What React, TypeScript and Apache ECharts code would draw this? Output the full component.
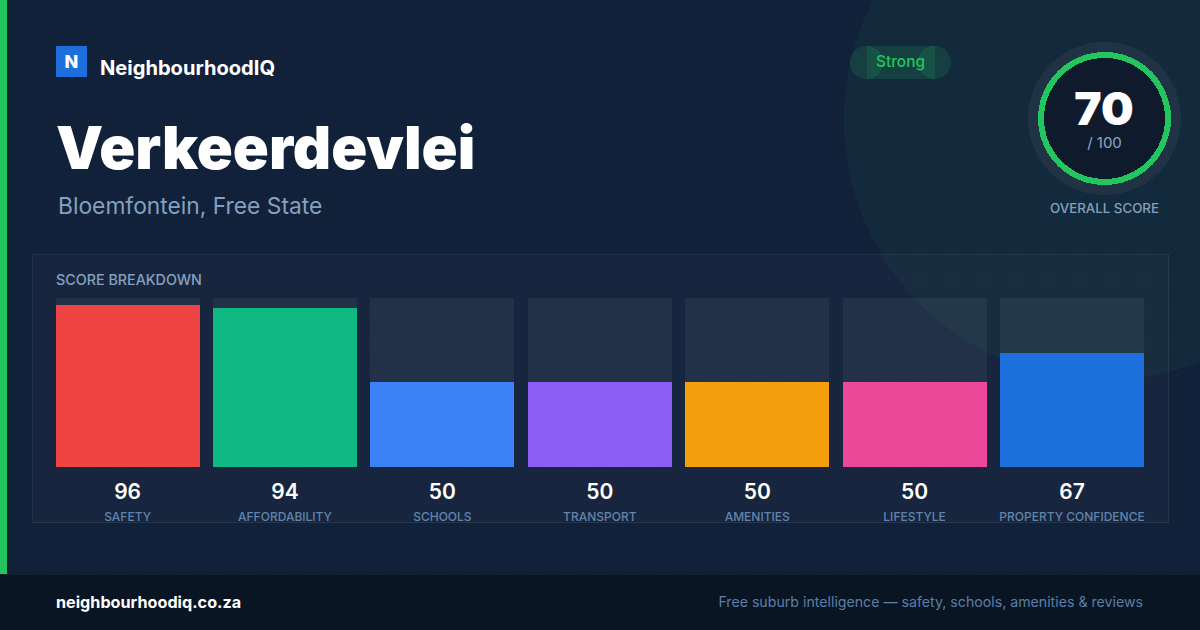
import { useEffect, useRef } from 'react';
import * as echarts from 'echarts';

const categories = ['SAFETY', 'AFFORDABILITY', 'SCHOOLS', 'TRANSPORT', 'AMENITIES', 'LIFESTYLE', 'PROPERTY CONFIDENCE'];
const scores = [96, 94, 50, 50, 50, 50, 67];
const barColors = ['#ef4444', '#10b981', '#3b82f6', '#8b5cf6', '#f59e0b', '#ec4899', '#1d6fdb'];

const FONT = 'Inter, sans-serif';
const GREEN = '#22c55e';

function label(text: string, x: number, y: number, fontSize: number, fontWeight: number, fill: string, align = 'left') {
  return {
    type: 'text',
    x,
    y,
    z: 5,
    style: { text, fontFamily: FONT, fontSize, fontWeight, fill, align, verticalAlign: 'middle' },
  };
}

export default function App() {
  const chartRef = useRef<HTMLDivElement>(null);

  useEffect(() => {
    if (!chartRef.current) return;
    document.body.style.margin = '0';

    const chart = echarts.init(chartRef.current, null, { renderer: 'svg' });

    chart.setOption({
      animation: false,
      grid: { left: 48.9, top: 297.8, width: 1101.8, height: 168.75 },
      xAxis: {
        type: 'category',
        data: categories,
        axisLine: { show: false },
        axisTick: { show: false },
        axisLabel: {
          interval: 0,
          margin: 10,
          formatter: (value: string, index: number) => `{v|${scores[index]}}\n{n|${value}}`,
          rich: {
            v: { fontFamily: FONT, fontSize: 21, fontWeight: 600, color: '#ffffff', lineHeight: 30, align: 'center' },
            n: { fontFamily: FONT, fontSize: 12, fontWeight: 500, color: '#5f82aa', lineHeight: 19, align: 'center' },
          },
        },
      },
      yAxis: { type: 'value', min: 0, max: 100, show: false },
      series: [
        {
          type: 'bar',
          barWidth: 144,
          showBackground: true,
          backgroundStyle: { color: 'rgba(255,255,255,0.05)' },
          data: scores.map((value, i) => ({ value, itemStyle: { color: barColors[i] } })),
        },
      ],
      graphic: [
        // big glow behind the header, runs under the panel
        { type: 'circle', z: 0, shape: { cx: 1104, cy: 120, r: 260 }, style: { fill: 'rgba(34,197,94,0.05)' } },
        // left accent
        { type: 'rect', z: 1, shape: { x: 0, y: 0, width: 7, height: 574 }, style: { fill: GREEN } },
        // panel
        {
          type: 'rect',
          z: 1,
          shape: { x: 32.5, y: 254.5, width: 1136, height: 268 },
          style: { fill: 'rgba(255,255,255,0.025)', stroke: 'rgba(255,255,255,0.07)', lineWidth: 1 },
        },
        // footer
        { type: 'rect', z: 1, shape: { x: 0, y: 574, width: 1200, height: 56 }, style: { fill: '#0a1524' } },
        { type: 'rect', z: 1, shape: { x: 0, y: 574, width: 1200, height: 1 }, style: { fill: 'rgba(255,255,255,0.05)' } },
        // logo
        { type: 'rect', z: 2, shape: { x: 56, y: 46, width: 31, height: 31 }, style: { fill: '#1d6fdb' } },
        label('N', 71.5, 61, 18, 800, '#ffffff', 'center'),
        label('NeighbourhoodIQ', 100, 68, 20.1, 700, '#ffffff'),
        label('Verkeerdevlei', 56, 146.5, 59.5, 900, '#ffffff'),
        label('Bloemfontein, Free State', 58, 205.5, 22.8, 400, '#85a0bf'),
        label('SCORE BREAKDOWN', 56, 279.5, 14.3, 500, '#85a0bf'),
        // strength pill, three overlapping translucent shapes
        { type: 'rect', z: 2, shape: { x: 866.5, y: 46, width: 68, height: 33 }, style: { fill: 'rgba(34,197,94,0.15)' } },
        { type: 'circle', z: 2, shape: { cx: 866.5, cy: 62.5, r: 16.5 }, style: { fill: 'rgba(34,197,94,0.15)' } },
        { type: 'circle', z: 2, shape: { cx: 934.5, cy: 62.5, r: 16.5 }, style: { fill: 'rgba(34,197,94,0.15)' } },
        label('Strong', 900.5, 61, 15.4, 500, GREEN, 'center'),
        // overall score ring
        { type: 'circle', z: 2, shape: { cx: 1104.5, cy: 118.5, r: 76.5 }, style: { fill: 'rgba(255,255,255,0.05)' } },
        {
          type: 'circle',
          z: 3,
          shape: { cx: 1104.5, cy: 118.5, r: 63.5 },
          style: { fill: '#0f1b2d', stroke: GREEN, lineWidth: 6 },
        },
        label('70', 1104, 107.5, 46, 900, '#ffffff', 'center'),
        label('/ 100', 1104.5, 142, 15, 400, '#8fa7c4', 'center'),
        label('OVERALL SCORE', 1104.5, 208, 13.3, 500, '#85a0bf', 'center'),
        // footer text
        label('neighbourhoodiq.co.za', 56, 601.5, 16.2, 700, '#ffffff'),
        label('Free suburb intelligence — safety, schools, amenities & reviews', 1143, 601.5, 14.17, 400, '#5b7ea6', 'right'),
      ],
    });

    return () => chart.dispose();
  }, []);

  return (
    <div
      ref={chartRef}
      style={{
        width: 1200,
        height: 630,
        shapeRendering: 'crispEdges',
        backgroundColor: '#12213a',
        backgroundImage: 'radial-gradient(circle, rgba(255,255,255,0.04) 1px, transparent 1.2px)',
        backgroundSize: '32px 32px',
        backgroundPosition: '8px 8px',
      } as React.CSSProperties}
    />
  );
}
